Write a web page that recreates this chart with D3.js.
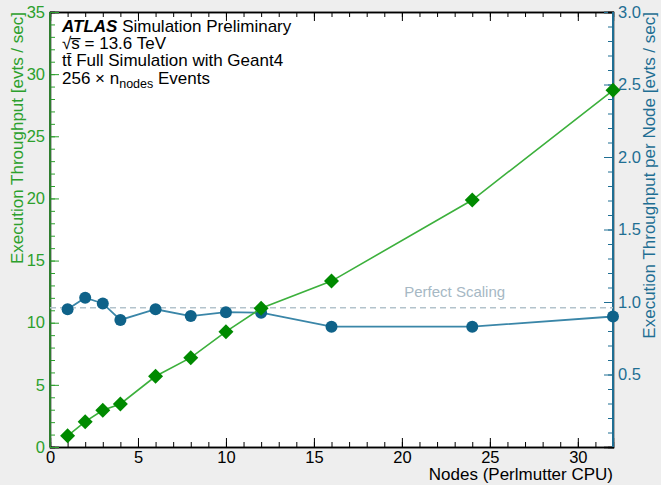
<!DOCTYPE html>
<html>
<head>
<meta charset="utf-8">
<script src="https://cdn.jsdelivr.net/npm/d3@7"></script>
<style>
  body { margin: 0; background: #eeeeee; }
  svg { display: block; font-family: "Liberation Sans", Arial, sans-serif; }
</style>
</head>
<body>
<div id="chart"></div>
<script>
// data
var nodes = [1, 2, 3, 4, 6, 8, 10, 12, 16, 24, 32];
var throughput = [0.9, 2.04, 2.95, 3.46, 5.69, 7.19, 9.28, 11.16, 13.35, 19.87, 28.7];
var perNode = [0.95, 1.03, 0.99, 0.876, 0.95, 0.903, 0.93, 0.926, 0.83, 0.83, 0.9];
var perfectScaling = 0.96;

var xTicks = [0, 5, 10, 15, 20, 25, 30];
var yLeftTicks = [0, 5, 10, 15, 20, 25, 30, 35];
var yRightTicks = [0.5, 1.0, 1.5, 2.0, 2.5, 3.0];

// screen size
var svgWidth = 661;
var svgHeight = 485;

var margin = { top: 12, right: 48, bottom: 38, left: 50 };
var width = svgWidth - margin.left - margin.right;
var height = svgHeight - margin.top - margin.bottom;

var green = "#2ca02c";
var greenDark = "#008a00";
var blue = "#3a86a8";
var blueDark = "#0f6289";
var blueText = "#1f6e93";

var svg = d3.select("#chart")
  .append("svg")
  .attr("width", svgWidth)
  .attr("height", svgHeight);

svg.append("rect")
  .attr("width", svgWidth)
  .attr("height", svgHeight)
  .attr("fill", "#eeeeee");

var chartGroup = svg.append("g")
  .attr("transform", `translate(${margin.left}, ${margin.top})`);

chartGroup.append("rect")
  .attr("width", width)
  .attr("height", height)
  .attr("fill", "white");

// scales
var xScale = d3.scaleLinear().domain([0, 32]).range([0, width]);
var yLeft = d3.scaleLinear().domain([0, 35]).range([height, 0]);
var yRight = d3.scaleLinear().domain([0, 3]).range([height, 0]);

// bottom axis, ticks pointing inward
var bottomAxis = chartGroup.append("g")
  .attr("transform", `translate(0, ${height})`)
  .call(d3.axisBottom(xScale).tickValues(xTicks).tickSize(-9).tickPadding(4));
chartGroup.append("g")
  .attr("transform", `translate(0, ${height})`)
  .call(d3.axisBottom(xScale).tickValues(d3.range(0, 33)).tickSize(-5).tickFormat(""));

// top axis (ticks only)
chartGroup.append("g")
  .call(d3.axisTop(xScale).tickValues(xTicks).tickSize(-9).tickFormat(""));
chartGroup.append("g")
  .call(d3.axisTop(xScale).tickValues(d3.range(0, 33)).tickSize(-5).tickFormat(""));

// left axis
var leftAxis = chartGroup.append("g")
  .call(d3.axisLeft(yLeft).tickValues(yLeftTicks).tickSize(-9).tickPadding(5));
chartGroup.append("g")
  .call(d3.axisLeft(yLeft).tickValues(d3.range(0, 36)).tickSize(-5).tickFormat(""))
  .attr("class", "leftMinor");

// right axis
var rightAxis = chartGroup.append("g")
  .attr("transform", `translate(${width}, 0)`)
  .call(d3.axisRight(yRight).tickValues(yRightTicks).tickSize(-9).tickPadding(5)
    .tickFormat(d3.format(".1f")));
chartGroup.append("g")
  .attr("class", "rightMinor")
  .attr("transform", `translate(${width}, 0)`)
  .call(d3.axisRight(yRight).tickValues(d3.range(1, 30).map(d => d / 10)).tickSize(-5).tickFormat(""));

// style axes
chartGroup.selectAll(".domain").attr("stroke", "black").attr("stroke-width", 1.3);
chartGroup.selectAll(".tick line").attr("stroke", "black");
chartGroup.selectAll(".tick text")
  .attr("font-size", "16.5px")
  .attr("font-family", "Liberation Sans, Arial, sans-serif")
  .attr("fill", "black");

leftAxis.selectAll(".tick text").attr("fill", green);
leftAxis.selectAll(".tick line").attr("stroke", green);
chartGroup.selectAll(".leftMinor .tick line").attr("stroke", green);
rightAxis.selectAll(".tick text").attr("fill", blueText);
rightAxis.selectAll(".tick line").attr("stroke", blueText);
chartGroup.selectAll(".rightMinor .tick line").attr("stroke", blueText);

// coloured side frame
chartGroup.append("line")
  .attr("x1", 0).attr("x2", 0).attr("y1", 0).attr("y2", height)
  .attr("stroke", "#2e7d2e").attr("stroke-width", 2);
chartGroup.append("line")
  .attr("x1", width).attr("x2", width).attr("y1", 0).attr("y2", height)
  .attr("stroke", blueText).attr("stroke-width", 2);

// perfect scaling reference
chartGroup.append("line")
  .attr("x1", 0).attr("x2", width)
  .attr("y1", yRight(perfectScaling)).attr("y2", yRight(perfectScaling))
  .attr("stroke", "#b3c3cc")
  .attr("stroke-width", 1.5)
  .attr("stroke-dasharray", "6,4");

chartGroup.append("text")
  .attr("x", xScale(23))
  .attr("y", yRight(perfectScaling) - 11)
  .attr("text-anchor", "middle")
  .attr("font-size", "15px")
  .attr("fill", "#a6b8c4")
  .text("Perfect Scaling");

// per node series (blue circles)
var perNodeData = nodes.map((n, i) => ({ x: n, y: perNode[i] }));
chartGroup.append("path")
  .datum(perNodeData)
  .attr("fill", "none")
  .attr("stroke", blue)
  .attr("stroke-width", 1.8)
  .attr("d", d3.line().x(d => xScale(d.x)).y(d => yRight(d.y)));

chartGroup.selectAll("circle")
  .data(perNodeData)
  .enter()
  .append("circle")
  .attr("cx", d => xScale(d.x))
  .attr("cy", d => yRight(d.y))
  .attr("r", 6)
  .attr("fill", blueDark);

// total throughput series (green diamonds)
var throughputData = nodes.map((n, i) => ({ x: n, y: throughput[i] }));
chartGroup.append("path")
  .datum(throughputData)
  .attr("fill", "none")
  .attr("stroke", "#3cb03c")
  .attr("stroke-width", 1.6)
  .attr("d", d3.line().x(d => xScale(d.x)).y(d => yLeft(d.y)));

chartGroup.selectAll(".diamond")
  .data(throughputData)
  .enter()
  .append("path")
  .attr("class", "diamond")
  .attr("transform", d => `translate(${xScale(d.x)}, ${yLeft(d.y)})`)
  .attr("d", "M0,-7.5L7.5,0L0,7.5L-7.5,0Z")
  .attr("fill", greenDark);

// axis titles
svg.append("text")
  .attr("x", margin.left + width)
  .attr("y", 480)
  .attr("text-anchor", "end")
  .attr("font-size", "17px")
  .attr("fill", "black")
  .text("Nodes (Perlmutter CPU)");

svg.append("text")
  .attr("transform", "translate(23, 12) rotate(-90)")
  .attr("text-anchor", "end")
  .attr("font-size", "17px")
  .attr("fill", green)
  .text("Execution Throughput [evts / sec]");

svg.append("text")
  .attr("transform", "translate(655, 12) rotate(-90)")
  .attr("text-anchor", "end")
  .attr("font-size", "17px")
  .attr("fill", blueText)
  .text("Execution Throughput per Node [evts / sec]");

// ATLAS label block
var label = svg.append("g").attr("font-size", "17px").attr("fill", "black");
var l1 = label.append("text").attr("x", 62).attr("y", 32);
l1.append("tspan").attr("font-weight", "bold").attr("font-style", "italic").text("ATLAS");
l1.append("tspan").text(" Simulation Preliminary");

label.append("text").attr("x", 62).attr("y", 49).text("\u221As\u0305 =  13.6 TeV");
label.append("text").attr("x", 62).attr("y", 66).text("tt\u0304 Full Simulation with Geant4");

var l4 = label.append("text").attr("x", 62).attr("y", 84);
l4.append("tspan").text("256 \u00d7 n");
l4.append("tspan").attr("font-size", "12.5px").attr("dy", 4).text("nodes");
l4.append("tspan").attr("dy", -4).text(" Events");
</script>
</body>
</html>
